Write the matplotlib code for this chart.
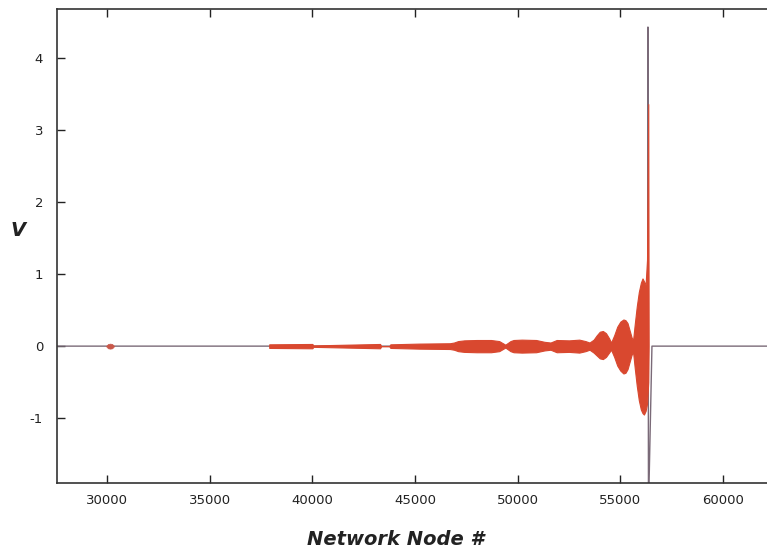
import matplotlib
matplotlib.use("Agg")
import matplotlib.pyplot as plt

plt.rcParams['axes.unicode_minus'] = False

# envelope of the red oscillation
env_x = [37900, 40000, 40050, 43300, 43350, 43750, 43800, 45200, 46700, 46900,
         47100, 47400, 48000, 48700, 49100, 49400, 49650, 49800, 50200, 50900,
         51300, 51600, 51900, 52500, 53000, 53300, 53500, 53700, 53850, 54000,
         54150, 54300, 54450, 54550, 54700, 54850, 55000, 55150, 55250, 55350,
         55450, 55550, 55620, 55700, 55800, 55900, 56000, 56080, 56150, 56230,
         56300, 56360, 56380]
env_hi = [0.025, 0.03, 0.01, 0.03, 0.0, 0.0, 0.025, 0.035, 0.04, 0.05,
          0.07, 0.08, 0.085, 0.085, 0.07, 0.02, 0.07, 0.085, 0.09, 0.085,
          0.06, 0.05, 0.085, 0.08, 0.09, 0.07, 0.05, 0.09, 0.15, 0.2,
          0.21, 0.18, 0.11, 0.05, 0.15, 0.27, 0.34, 0.37, 0.36, 0.32,
          0.22, 0.12, 0.08, 0.3, 0.55, 0.75, 0.88, 0.94, 0.9, 0.85,
          1.2, 3.36, 0.0]
env_lo = [-0.025, -0.03, -0.01, -0.03, 0.0, 0.0, -0.025, -0.035, -0.04, -0.05,
          -0.07, -0.08, -0.085, -0.085, -0.07, -0.02, -0.07, -0.085, -0.09, -0.085,
          -0.06, -0.05, -0.085, -0.08, -0.09, -0.07, -0.05, -0.09, -0.13, -0.17,
          -0.18, -0.15, -0.09, -0.05, -0.15, -0.27, -0.34, -0.38, -0.37, -0.32,
          -0.22, -0.12, -0.08, -0.3, -0.55, -0.75, -0.88, -0.93, -0.95, -0.9,
          -0.8, -0.5, 0.0]

# small blob near node 30000
blob_x = [29950, 30050, 30150, 30250, 30350]
blob_hi = [0.0, 0.03, 0.035, 0.03, 0.0]
blob_lo = [0.0, -0.03, -0.035, -0.03, 0.0]

# thin dark trace with the spike
line_x = [27500, 56330, 56345, 56370, 56540, 62300]
line_y = [0.0, 0.0, 4.43, -2.3, 0.0, 0.0]

x_ticks = [30000, 35000, 40000, 45000, 50000, 55000, 60000]
y_ticks = [-1, 0, 1, 2, 3, 4]

fig = plt.figure(figsize=(7.67, 5.5), dpi=100)
ax = fig.add_axes([57 / 767, 1 - 483 / 550, 1 - 57 / 767, (483 - 9) / 550])

ax.plot(line_x, line_y, color='#7a6a78', lw=1.0, zorder=2)
ax.fill_between(env_x, env_lo, env_hi, color='#d9482f', lw=0.8,
                edgecolor='#d9482f', zorder=3)
ax.fill_between(blob_x, blob_lo, blob_hi, color='#c9584a', lw=0.5, zorder=3)

ax.set_xlim(27565, 62143)
ax.set_ylim(-1.90, 4.68)
ax.set_xticks(x_ticks)
ax.set_yticks(y_ticks)
ax.set_xticklabels([str(t) for t in x_ticks])
ax.set_yticklabels([str(t) for t in y_ticks])

ax.tick_params(direction='in', length=6, width=1, labelsize=9.5,
               colors='#222222', top=True, right=False, pad=8)
ax.tick_params(axis='y', pad=10)
for side in ['left', 'bottom', 'top']:
    ax.spines[side].set_color('#333333')
    ax.spines[side].set_linewidth(1.2)
ax.spines['right'].set_visible(False)

ax.set_xlabel('Network Node #', fontsize=14, fontweight='bold', style='italic',
              color='#222222')
ax.xaxis.set_label_coords(0.477, -0.099)
ax.set_ylabel('V', fontsize=14, fontweight='bold', style='italic',
              rotation=0, color='#222222')
ax.yaxis.set_label_coords(-0.055, 0.513)

fig.savefig('out.png', dpi=100)
